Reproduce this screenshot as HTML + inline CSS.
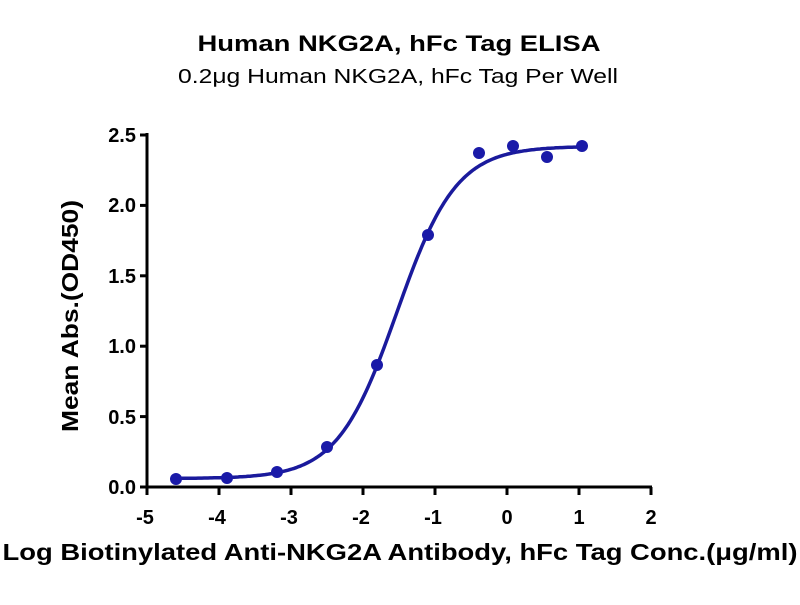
<!DOCTYPE html>
<html><head><style>
body{margin:0;background:#fff;}
svg text{font-family:"Liberation Sans",Arial,sans-serif;}
</style></head><body>
<svg width="800" height="600" viewBox="0 0 800 600" xmlns="http://www.w3.org/2000/svg">
<text x="399" y="51" text-anchor="middle" font-size="22" font-weight="bold" textLength="403" lengthAdjust="spacingAndGlyphs">Human NKG2A, hFc Tag ELISA</text>
<text x="398" y="83" text-anchor="middle" font-size="20" textLength="440" lengthAdjust="spacingAndGlyphs">0.2μg Human NKG2A, hFc Tag Per Well</text>
<g stroke="#000" stroke-width="3" fill="none">
<line x1="147" y1="133" x2="147" y2="488"/>
<line x1="145" y1="487" x2="652" y2="487"/>
<line x1="140" y1="135" x2="147" y2="135"/>
<line x1="140" y1="205.4" x2="147" y2="205.4"/>
<line x1="140" y1="275.8" x2="147" y2="275.8"/>
<line x1="140" y1="346.2" x2="147" y2="346.2"/>
<line x1="140" y1="416.6" x2="147" y2="416.6"/>
<line x1="140" y1="487" x2="147" y2="487"/>
<line x1="147" y1="487" x2="147" y2="495"/>
<line x1="219" y1="487" x2="219" y2="495"/>
<line x1="291" y1="487" x2="291" y2="495"/>
<line x1="363" y1="487" x2="363" y2="495"/>
<line x1="435" y1="487" x2="435" y2="495"/>
<line x1="507" y1="487" x2="507" y2="495"/>
<line x1="579" y1="487" x2="579" y2="495"/>
<line x1="651" y1="487" x2="651" y2="495"/>
</g>
<g font-size="20" font-weight="bold" text-anchor="end">
<text x="136" y="142">2.5</text><text x="136" y="212">2.0</text><text x="136" y="283">1.5</text>
<text x="136" y="353">1.0</text><text x="136" y="424">0.5</text><text x="136" y="494">0.0</text>
</g>
<g font-size="20" font-weight="bold" text-anchor="middle">
<text x="145" y="524">-5</text><text x="217" y="524">-4</text><text x="289" y="524">-3</text><text x="361" y="524">-2</text>
<text x="433" y="524">-1</text><text x="507" y="524">0</text><text x="579" y="524">1</text><text x="651" y="524">2</text>
</g>
<text x="400" y="560" text-anchor="middle" font-size="23" font-weight="bold" textLength="795" lengthAdjust="spacingAndGlyphs">Log Biotinylated Anti-NKG2A Antibody, hFc Tag Conc.(μg/ml)</text>
<text transform="translate(78,316) rotate(-90)" text-anchor="middle" font-size="23" font-weight="bold" textLength="232" lengthAdjust="spacingAndGlyphs">Mean Abs.(OD450)</text>
<path id="c" fill="none" stroke="#1a1a9c" stroke-width="3.5"/>
<g fill="#1a1aa8">
<circle cx="176" cy="479" r="6"/><circle cx="227" cy="478" r="6"/><circle cx="277" cy="472" r="6"/>
<circle cx="327" cy="447" r="6"/><circle cx="377" cy="365" r="6"/><circle cx="428" cy="235" r="6"/>
<circle cx="479" cy="153" r="6"/><circle cx="513" cy="146" r="6"/><circle cx="547" cy="157" r="6"/>
<circle cx="582" cy="146" r="6"/>
</g>
</svg>
<script>
var d="";for(var px=176;px<=582;px+=2){var lx=(px-147)/72-5;var v=0.06+2.36/(1+Math.pow(10,(-1.53-lx)*1.05));var py=487-v*140.8;d+=(d?"L":"M")+px+","+py.toFixed(1);}
document.getElementById("c").setAttribute("d",d);
</script>
</body></html>
